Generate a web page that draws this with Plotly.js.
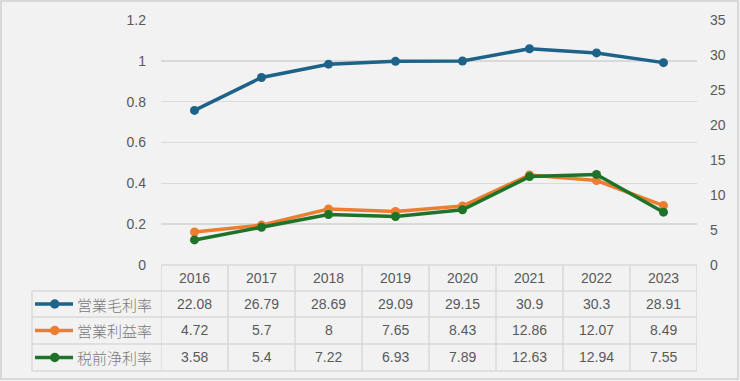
<!DOCTYPE html>
<html>
<head>
<meta charset="utf-8">
<script src="https://cdn.plot.ly/plotly-3.0.1.min.js"></script>
<style>html,body{margin:0;padding:0;background:#f2f2f2;}#chart{width:740px;height:381px;}</style>
</head>
<body>
<div id="chart"></div>
<script>
const years = ['2016','2017','2018','2019','2020','2021','2022','2023'];
const seriesNames = ['営業毛利率','営業利益率','税前浄利率'];
const grossMargin = [22.08, 26.79, 28.69, 29.09, 29.15, 30.9, 30.3, 28.91];
const opMargin = [4.72, 5.7, 8, 7.65, 8.43, 12.86, 12.07, 8.49];
const pretaxMargin = [3.58, 5.4, 7.22, 6.93, 7.89, 12.63, 12.94, 7.55];
const colors = ['#1d6289', '#ed7d31', '#1e7329'];
const allSeries = [grossMargin, opMargin, pretaxMargin];

const W = 740, H = 381;
const L = 161, R = 697, T = 20, B = 265;
const px = p => (p - L) / (R - L);
const py = p => (B - p) / (B - T);

const traces = [{
  x: years.map((_, i) => i), y: years.map(() => null), yaxis: 'y',
  mode: 'lines', showlegend: false, hoverinfo: 'skip'
}];
allSeries.forEach((s, k) => {
  traces.push({
    x: years.map((_, i) => i), y: s, yaxis: 'y2', name: seriesNames[k],
    mode: 'lines+markers', line: {color: colors[k], width: 3.5},
    marker: {color: colors[k], size: 9}, showlegend: false, hoverinfo: 'skip'
  });
});

const gridC = '#d9d9d9';
const shapes = [];
const annotations = [];
const rowEdges = [265, 291, 317, 344, 371];
const textFont = {family: 'Liberation Sans, Arial, sans-serif', size: 14, color: '#595959'};
const jpFont = {family: 'Noto Sans CJK JP, sans-serif', size: 15, color: '#7a7a7a', weight: 300};
const lineStyle = {color: gridC, width: 1.5};

// outer border
shapes.push({type: 'rect', xref: 'paper', yref: 'paper', x0: px(1), x1: px(738), y0: py(1), y1: py(379), line: {color: '#d0d0d0', width: 1.5}, layer: 'below'});
// horizontal lines of table
rowEdges.forEach((e, r) => {
  shapes.push({type: 'line', xref: 'paper', yref: 'paper', x0: px(r === 0 ? L : 32), x1: px(R), y0: py(e), y1: py(e), line: lineStyle});
});
// vertical lines for year columns
for (let i = 0; i <= years.length; i++) {
  shapes.push({type: 'line', xref: 'x', yref: 'paper', x0: i - 0.5, x1: i - 0.5, y0: py(rowEdges[0]), y1: py(rowEdges[4]), line: lineStyle});
}
// legend column left edge
shapes.push({type: 'line', xref: 'paper', yref: 'paper', x0: px(32), x1: px(32), y0: py(rowEdges[1]), y1: py(rowEdges[4]), line: lineStyle});

// header
years.forEach((yr, i) => {
  annotations.push({xref: 'x', yref: 'paper', x: i, y: py((rowEdges[0] + rowEdges[1]) / 2), text: yr, showarrow: false, font: textFont, xanchor: 'center', yanchor: 'middle'});
});
// rows
allSeries.forEach((s, k) => {
  const cy = (rowEdges[k + 1] + rowEdges[k + 2]) / 2;
  s.forEach((v, i) => {
    annotations.push({xref: 'x', yref: 'paper', x: i, y: py(cy), text: String(v), showarrow: false, font: textFont, xanchor: 'center', yanchor: 'middle'});
  });
  annotations.push({xref: 'paper', yref: 'paper', x: px(75), y: py(cy), text: seriesNames[k], showarrow: false, font: jpFont, xanchor: 'left', yanchor: 'middle'});
  shapes.push({type: 'line', xref: 'paper', yref: 'paper', x0: px(35), x1: px(73), y0: py(cy), y1: py(cy), line: {color: colors[k], width: 3.5}});
  shapes.push({type: 'circle', xref: 'paper', yref: 'paper', x0: px(50), x1: px(59.5), y0: py(cy - 4.75), y1: py(cy + 4.75), fillcolor: colors[k], line: {color: colors[k], width: 0}});
});

const layout = {
  width: W, height: H,
  margin: {l: L, r: W - R, t: T, b: H - B, pad: 0},
  paper_bgcolor: '#f2f2f2', plot_bgcolor: '#f2f2f2',
  font: textFont,
  showlegend: false,
  xaxis: {range: [-0.5, years.length - 0.5], showgrid: false, zeroline: false, showticklabels: false, ticks: '', showline: false, fixedrange: true},
  yaxis: {range: [0, 1.2], tickvals: [0, 0.2, 0.4, 0.6, 0.8, 1, 1.2], ticktext: ['0','0.2','0.4','0.6','0.8','1','1.2'], showgrid: true, gridcolor: gridC, gridwidth: 1.5, zeroline: false, ticks: '', ticklabelstandoff: 14, tickfont: textFont, showline: false},
  yaxis2: {range: [0, 35], overlaying: 'y', side: 'right', tickvals: [0,5,10,15,20,25,30,35], showgrid: false, zeroline: false, ticks: '', ticklabelstandoff: 12, tickfont: textFont, showline: false},
  shapes: shapes,
  annotations: annotations
};

Plotly.newPlot('chart', traces, layout, {staticPlot: true, displayModeBar: false});
</script>
</body>
</html>
